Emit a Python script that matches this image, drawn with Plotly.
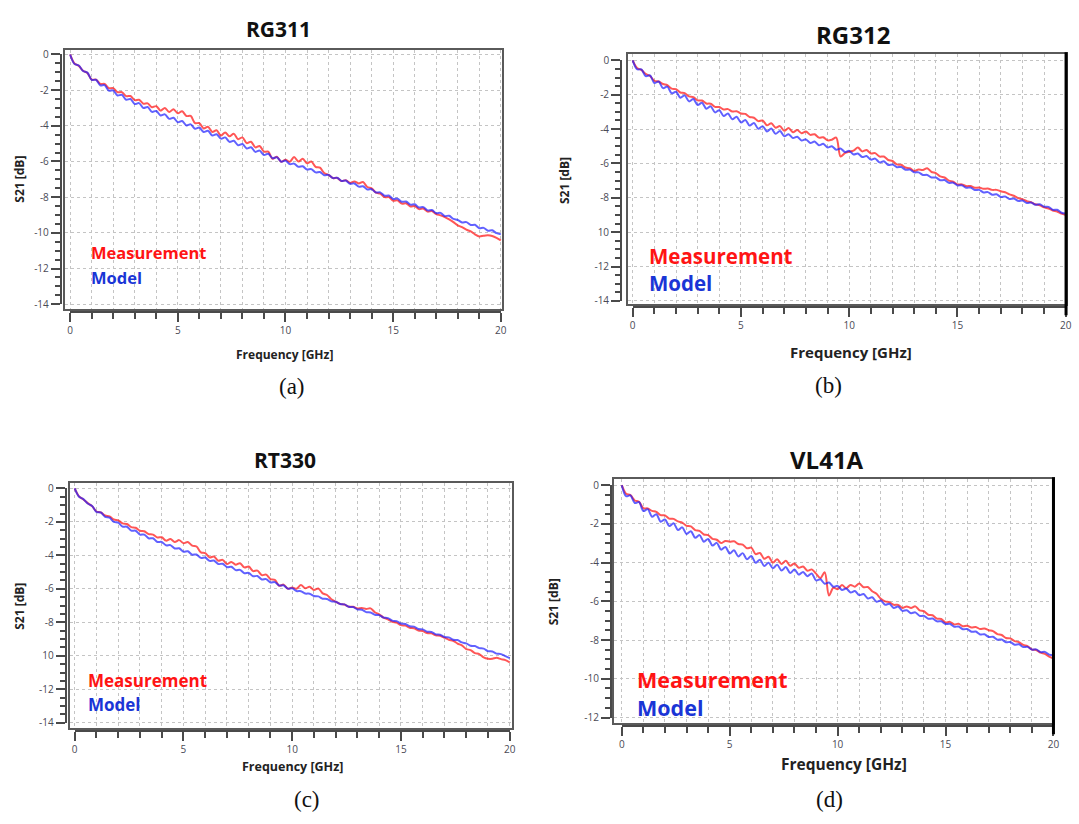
import plotly.graph_objects as go

W, H = 1079, 824

# ---------------- data ----------------
freq_ghz = [0.0, 0.2, 0.4, 0.6, 0.8, 1.0, 1.2, 1.4, 1.6, 1.8,
            2.0, 2.2, 2.4, 2.6, 2.8, 3.0, 3.2, 3.4, 3.6, 3.8,
            4.0, 4.2, 4.4, 4.6, 4.8, 5.0, 5.2, 5.4, 5.6, 5.8,
            6.0, 6.2, 6.4, 6.6, 6.8, 7.0, 7.2, 7.4, 7.6, 7.8,
            8.0, 8.2, 8.4, 8.6, 8.8, 9.0, 9.2, 9.4, 9.6, 9.8,
            10.0, 10.2, 10.4, 10.6, 10.8, 11.0, 11.2, 11.4, 11.6, 11.8,
            12.0, 12.2, 12.4, 12.6, 12.8, 13.0, 13.2, 13.4, 13.6, 13.8,
            14.0, 14.2, 14.4, 14.6, 14.8, 15.0, 15.2, 15.4, 15.6, 15.8,
            16.0, 16.2, 16.4, 16.6, 16.8, 17.0, 17.2, 17.4, 17.6, 17.8,
            18.0, 18.2, 18.4, 18.6, 18.8, 19.0, 19.2, 19.4, 19.6, 19.8, 20.0]

# (a) RG311
meas_rg311 = [0.00, -0.51, -0.64, -0.91, -1.04, -1.41, -1.41, -1.65, -1.65, -1.89,
              -1.89, -2.12, -2.11, -2.34, -2.33, -2.56, -2.54, -2.76, -2.74, -2.96,
              -2.90, -3.15, -3.00, -3.23, -3.07, -3.30, -3.18, -3.45, -3.45, -3.85,
              -3.85, -4.15, -4.05, -4.35, -4.25, -4.55, -4.37, -4.59, -4.45, -4.75,
              -4.65, -4.97, -4.89, -5.21, -5.13, -5.45, -5.45, -5.85, -5.73, -6.02,
              -5.90, -6.02, -5.75, -6.00, -5.85, -6.10, -6.00, -6.30, -6.35, -6.65,
              -6.75, -6.93, -6.92, -7.10, -7.05, -7.20, -7.12, -7.23, -7.15, -7.43,
              -7.50, -7.75, -7.80, -8.00, -8.00, -8.20, -8.18, -8.36, -8.34, -8.52,
              -8.50, -8.67, -8.64, -8.81, -8.78, -8.95, -9.02, -9.12, -9.25, -9.40,
              -9.58, -9.68, -9.82, -9.92, -10.08, -10.20, -10.16, -10.14, -10.18, -10.28, -10.42]
model_rg311 = [0.00, -0.53, -0.62, -0.93, -1.02, -1.43, -1.42, -1.73, -1.72, -2.03,
               -2.02, -2.30, -2.26, -2.54, -2.50, -2.78, -2.73, -3.00, -2.95, -3.22,
               -3.17, -3.42, -3.36, -3.61, -3.55, -3.80, -3.73, -3.98, -3.92, -4.17,
               -4.10, -4.35, -4.28, -4.54, -4.47, -4.72, -4.65, -4.90, -4.84, -5.09,
               -5.02, -5.27, -5.20, -5.46, -5.39, -5.64, -5.57, -5.82, -5.76, -6.01,
               -5.94, -6.15, -6.12, -6.30, -6.27, -6.45, -6.43, -6.61, -6.59, -6.77,
               -6.75, -6.93, -6.91, -7.09, -7.07, -7.25, -7.23, -7.41, -7.39, -7.57,
               -7.55, -7.74, -7.73, -7.92, -7.91, -8.10, -8.08, -8.26, -8.24, -8.42,
               -8.40, -8.58, -8.56, -8.74, -8.72, -8.90, -8.88, -9.06, -9.04, -9.22,
               -9.28, -9.42, -9.40, -9.56, -9.55, -9.74, -9.72, -9.88, -9.86, -10.02, -10.08]

# (b) RG312
meas_rg312 = [0.00, -0.44, -0.56, -0.79, -0.91, -1.19, -1.23, -1.38, -1.45, -1.65,
              -1.68, -1.87, -1.91, -2.10, -2.14, -2.33, -2.34, -2.51, -2.53, -2.71,
              -2.72, -2.86, -2.84, -2.98, -2.96, -3.09, -3.12, -3.30, -3.34, -3.54,
              -3.50, -3.78, -3.66, -3.92, -3.83, -4.10, -3.94, -4.18, -4.06, -4.24,
              -4.14, -4.34, -4.30, -4.50, -4.48, -4.66, -4.62, -4.50, -5.60, -5.40,
              -5.32, -5.25, -5.08, -5.30, -5.22, -5.42, -5.40, -5.60, -5.60, -5.80,
              -5.86, -6.06, -6.08, -6.24, -6.28, -6.44, -6.36, -6.38, -6.28, -6.50,
              -6.56, -6.76, -6.82, -7.00, -7.06, -7.22, -7.22, -7.32, -7.32, -7.42,
              -7.40, -7.48, -7.46, -7.54, -7.54, -7.62, -7.68, -7.80, -7.88, -8.02,
              -8.08, -8.20, -8.26, -8.38, -8.44, -8.56, -8.62, -8.74, -8.80, -8.92, -9.00]
model_rg312 = [0.00, -0.52, -0.53, -0.92, -0.88, -1.32, -1.23, -1.62, -1.53, -1.92,
               -1.83, -2.18, -2.04, -2.39, -2.25, -2.60, -2.47, -2.82, -2.68, -3.03,
               -2.90, -3.24, -3.09, -3.43, -3.28, -3.62, -3.47, -3.80, -3.65, -3.98,
               -3.83, -4.14, -3.97, -4.28, -4.11, -4.42, -4.30, -4.52, -4.45, -4.67,
               -4.60, -4.81, -4.73, -4.94, -4.86, -5.07, -5.00, -5.21, -5.13, -5.34,
               -5.27, -5.48, -5.42, -5.63, -5.57, -5.78, -5.72, -5.94, -5.87, -6.09,
               -6.06, -6.22, -6.21, -6.37, -6.36, -6.52, -6.52, -6.67, -6.67, -6.82,
               -6.82, -6.98, -6.97, -7.13, -7.12, -7.28, -7.27, -7.42, -7.40, -7.55,
               -7.54, -7.69, -7.67, -7.82, -7.80, -7.95, -7.93, -8.07, -8.04, -8.18,
               -8.16, -8.30, -8.27, -8.41, -8.38, -8.52, -8.53, -8.70, -8.70, -8.87, -8.92]

# (c) RT330
meas_rt330 = [0.00, -0.48, -0.66, -0.88, -1.06, -1.38, -1.43, -1.62, -1.67, -1.86,
              -1.91, -2.09, -2.13, -2.31, -2.35, -2.53, -2.56, -2.73, -2.76, -2.93,
              -2.92, -3.12, -3.02, -3.20, -3.09, -3.27, -3.20, -3.42, -3.47, -3.82,
              -3.87, -4.12, -4.07, -4.32, -4.27, -4.52, -4.39, -4.56, -4.47, -4.72,
              -4.67, -4.94, -4.91, -5.18, -5.15, -5.42, -5.47, -5.82, -5.75, -5.99,
              -5.92, -5.99, -5.77, -5.97, -5.87, -6.07, -5.98, -6.27, -6.37, -6.62,
              -6.77, -6.90, -6.94, -7.07, -7.07, -7.17, -7.14, -7.20, -7.17, -7.40,
              -7.52, -7.72, -7.82, -7.97, -8.02, -8.17, -8.20, -8.33, -8.36, -8.49,
              -8.52, -8.64, -8.66, -8.78, -8.80, -8.92, -9.04, -9.10, -9.27, -9.38,
              -9.60, -9.66, -9.84, -9.90, -10.10, -10.18, -10.18, -10.12, -10.20, -10.26, -10.40]
model_rt330 = [0.00, -0.50, -0.64, -0.90, -1.05, -1.40, -1.44, -1.70, -1.75, -2.00,
               -2.05, -2.28, -2.29, -2.52, -2.53, -2.76, -2.76, -2.98, -2.98, -3.20,
               -3.20, -3.40, -3.39, -3.59, -3.58, -3.78, -3.76, -3.96, -3.95, -4.15,
               -4.13, -4.33, -4.31, -4.52, -4.50, -4.70, -4.68, -4.88, -4.87, -5.07,
               -5.05, -5.25, -5.23, -5.44, -5.42, -5.62, -5.60, -5.80, -5.79, -5.99,
               -5.97, -6.13, -6.14, -6.28, -6.29, -6.43, -6.45, -6.59, -6.61, -6.75,
               -6.77, -6.91, -6.93, -7.07, -7.09, -7.23, -7.25, -7.39, -7.41, -7.55,
               -7.57, -7.72, -7.75, -7.90, -7.93, -8.08, -8.10, -8.24, -8.26, -8.40,
               -8.42, -8.56, -8.58, -8.72, -8.74, -8.88, -8.90, -9.04, -9.06, -9.20,
               -9.26, -9.40, -9.42, -9.54, -9.57, -9.72, -9.74, -9.87, -9.90, -10.02, -10.14]

# (d) VL41A
meas_vl41a = [0.00, -0.44, -0.51, -0.79, -0.86, -1.19, -1.20, -1.33, -1.38, -1.55,
              -1.56, -1.73, -1.74, -1.87, -1.93, -2.10, -2.13, -2.32, -2.36, -2.55,
              -2.58, -2.77, -2.82, -2.99, -2.88, -2.92, -2.90, -3.04, -3.07, -3.26,
              -3.23, -3.56, -3.50, -3.80, -3.70, -4.00, -3.83, -4.07, -3.90, -4.16,
              -4.05, -4.27, -4.20, -4.42, -4.35, -4.57, -4.80, -4.50, -5.70, -5.30,
              -5.37, -5.16, -5.32, -5.15, -5.24, -5.08, -5.27, -5.26, -5.48, -5.61,
              -5.86, -6.00, -6.04, -6.18, -6.18, -6.34, -6.26, -6.34, -6.26, -6.47,
              -6.51, -6.69, -6.72, -6.89, -6.91, -7.09, -7.06, -7.19, -7.16, -7.29,
              -7.26, -7.35, -7.32, -7.43, -7.40, -7.49, -7.54, -7.69, -7.74, -7.89,
              -7.91, -8.05, -8.11, -8.25, -8.31, -8.49, -8.51, -8.65, -8.71, -8.85, -8.95]
model_vl41a = [0.00, -0.57, -0.53, -0.92, -0.88, -1.34, -1.24, -1.63, -1.50, -1.89,
               -1.77, -2.11, -1.97, -2.32, -2.18, -2.52, -2.38, -2.72, -2.58, -2.92,
               -2.78, -3.12, -2.98, -3.33, -3.19, -3.53, -3.36, -3.68, -3.51, -3.83,
               -3.66, -4.01, -3.85, -4.17, -4.01, -4.29, -4.11, -4.41, -4.23, -4.54,
               -4.36, -4.62, -4.48, -4.70, -4.56, -4.92, -4.86, -5.09, -5.03, -5.25,
               -5.20, -5.41, -5.34, -5.54, -5.47, -5.68, -5.62, -5.85, -5.79, -6.02,
               -5.96, -6.18, -6.12, -6.34, -6.27, -6.49, -6.46, -6.61, -6.57, -6.75,
               -6.75, -6.90, -6.89, -7.03, -7.03, -7.17, -7.16, -7.31, -7.30, -7.44,
               -7.43, -7.57, -7.56, -7.71, -7.70, -7.84, -7.83, -7.98, -7.97, -8.11,
               -8.10, -8.24, -8.22, -8.36, -8.35, -8.49, -8.48, -8.62, -8.61, -8.75, -8.78]

panel_titles = ["RG311", "RG312", "RT330", "VL41A"]
panel_labels = ["(a)", "(b)", "(c)", "(d)"]
x_tick_vals = [0, 5, 10, 15, 20]
y_tick_vals_14 = [0, -2, -4, -6, -8, -10, -12, -14]
y_tick_text_a = ["0", "-2", "-4", "-6", "-8", "-10", "-12", "-14"]
y_tick_text_b = ["0", "-2", "-4", "-6", "-8", "10", "-12", "-14"]
y_tick_text_c = ["0", "-2", "-4", "-6", "-8", "10", "-12", "-14"]
y_tick_vals_12 = [0, -2, -4, -6, -8, -10, -12]
y_tick_text_d = ["0", "-2", "-4", "-6", "-8", "-10", "-12"]

# ---------------- geometry / style (pixels) ----------------
# leg: (left x, measurement y, model y, font size, combined-in-one-text)
PANELS = [
    dict(meas=meas_rg311, model=model_rg311, ymin=-14, tv=y_tick_vals_14, tt=y_tick_text_a,
         x0=67.7, x20=502.0, y0=47.3, ymn=301.7, fl=62.3, fr=503.3, ft=42.7, fb=306.7,
         yl=58.3, xl=310.0, title=(278, 21, 21), lab=(291, 386), xt=(284, 353, 12),
         yt=(17, 174), leg=(87, 249, 274, 16.5, False), thick_right=False),
    dict(meas=meas_rg312, model=model_rg312, ymin=-14, tv=y_tick_vals_14, tt=y_tick_text_b,
         x0=635.0, x20=1071.7, y0=53.3, ymn=298.3, fl=630.0, fr=1072.0, ft=47.0, fb=301.7,
         yl=623.3, xl=305.0, title=(857, 27, 24), lab=(832, 384), xt=(855, 350, 15),
         yt=(567, 176), leg=(649, 266, 266, 20.5, True), thick_right=True),
    dict(meas=meas_rt330, model=model_rt330, ymin=-14, tv=y_tick_vals_14, tt=y_tick_text_c,
         x0=72.3, x20=511.0, y0=489.3, ymn=728.0, fl=67.7, fr=512.8, ft=483.3, fb=733.0,
         yl=63.3, xl=736.0, title=(284, 460, 21), lab=(307, 806), xt=(292, 773, 12.5),
         yt=(17, 609), leg=(84, 685, 709, 17, False), thick_right=False),
    dict(meas=meas_vl41a, model=model_vl41a, ymin=-12, tv=y_tick_vals_12, tt=y_tick_text_d,
         x0=624.0, x20=1059.3, y0=486.0, ymn=722.7, fl=616.6, fr=1059.3, ft=480.0, fb=728.3,
         yl=613.0, xl=731.7, title=(831, 460, 24), lab=(833, 806), xt=(848, 770, 15.5),
         yt=(556, 605), leg=(637, 698, 698, 21.5, True), thick_right=True),
]

FRAME = "#5a5a5a"
AXC = "#4a4a4a"
GRID = "#c4c4c4"
TICKFONT = dict(family="Open Sans", size=10, color="#4a4a55")
RED = "rgba(255,30,30,0.75)"
BLUE = "rgba(30,30,255,0.7)"
RED_TXT = "#ff1414"
BLUE_TXT = "#1a35d6"


def px(x):
    return x / W


def py(y):
    return 1 - y / H


fig = go.Figure()
layout = dict(width=W, height=H, margin=dict(l=0, r=0, t=0, b=0),
              paper_bgcolor="white", plot_bgcolor="rgba(0,0,0,0)",
              showlegend=False, annotations=[], shapes=[])

for k, p in enumerate(PANELS):
    fa, ta = k + 1, k + 5
    fs = "" if fa == 1 else str(fa)
    ts = str(ta)
    ppg = (p["x20"] - p["x0"]) / 20.0
    ppd = (p["ymn"] - p["y0"]) / (-p["ymin"])
    xr = [-(p["x0"] - p["fl"]) / ppg, 20 + (p["fr"] - p["x20"]) / ppg]
    yr = [p["ymin"] - (p["fb"] - p["ymn"]) / ppd, (p["y0"] - p["ft"]) / ppd]

    # frame + grid axes (data traces live here)
    layout["xaxis" + fs] = dict(domain=[px(p["fl"]), px(p["fr"])], range=xr, anchor="y" + fs,
                                showline=True, mirror=True, linecolor=FRAME, linewidth=2,
                                ticks="", showticklabels=False, showgrid=True, gridcolor=GRID,
                                griddash="dot", gridwidth=1, tickmode="linear", tick0=0, dtick=1,
                                zeroline=False, fixedrange=True)
    layout["yaxis" + fs] = dict(domain=[py(p["fb"]), py(p["ft"])], range=yr, anchor="x" + fs,
                                showline=True, mirror=True, linecolor=FRAME, linewidth=2,
                                ticks="", showticklabels=False, showgrid=True, gridcolor=GRID,
                                griddash="dot", gridwidth=1, tickmode="linear", tick0=0, dtick=2,
                                zeroline=False, fixedrange=True)
    # detached tick axes
    layout["xaxis" + ts] = dict(domain=[px(p["x0"]), px(p["x20"])], range=[0, 20], anchor="free",
                                position=py(p["xl"]), side="bottom", showline=True, linecolor=AXC,
                                linewidth=2, ticks="outside", ticklen=9, tickwidth=2, tickcolor=AXC,
                                tickmode="array", tickvals=x_tick_vals, tickfont=TICKFONT,
                                minor=dict(tickmode="linear", tick0=0, dtick=1, ticks="outside",
                                           ticklen=6, tickwidth=2, tickcolor=AXC, showgrid=False),
                                showgrid=False, zeroline=False, fixedrange=True)
    layout["yaxis" + ts] = dict(domain=[py(p["ymn"]), py(p["y0"])], range=[p["ymin"], 0], anchor="free",
                                position=px(p["yl"]), side="left", showline=True, linecolor=AXC,
                                linewidth=2, ticks="outside", ticklen=9, tickwidth=2, tickcolor=AXC,
                                tickmode="array", tickvals=p["tv"], ticktext=p["tt"], tickfont=TICKFONT,
                                minor=dict(tickmode="linear", tick0=0, dtick=0.5, ticks="outside",
                                           ticklen=5, tickwidth=1.5, tickcolor=AXC, showgrid=False),
                                showgrid=False, zeroline=False, fixedrange=True)

    fig.add_trace(go.Scatter(x=[], y=[], xaxis="x" + ts, yaxis="y" + ts, mode="lines",
                             showlegend=False, hoverinfo="skip"))
    fig.add_trace(go.Scatter(x=freq_ghz, y=p["meas"], xaxis="x" + fs, yaxis="y" + fs, mode="lines",
                             line=dict(color=RED, width=2, shape="spline", smoothing=0.9),
                             name="Measurement", hoverinfo="skip"))
    fig.add_trace(go.Scatter(x=freq_ghz, y=p["model"], xaxis="x" + fs, yaxis="y" + fs, mode="lines",
                             line=dict(color=BLUE, width=2, shape="spline", smoothing=0.9),
                             name="Model", hoverinfo="skip"))

    if p["thick_right"]:
        layout["shapes"].append(dict(type="line", xref="paper", yref="paper",
                                     x0=px(p["fr"]), x1=px(p["fr"]), y0=py(p["ft"] - 2), y1=py(p["xl"] + 8),
                                     line=dict(color="black", width=3)))

    tx, tyy, tsz = p["title"]
    layout["annotations"].append(dict(text="<b>%s</b>" % panel_titles[k], x=px(tx), y=py(tyy),
                                      xref="paper", yref="paper", xanchor="center", yanchor="middle",
                                      showarrow=False, font=dict(family="Open Sans", size=tsz, color="#111")))
    lx, ly = p["lab"]
    layout["annotations"].append(dict(text=panel_labels[k], x=px(lx), y=py(ly), xref="paper", yref="paper",
                                      xanchor="center", yanchor="middle", showarrow=False,
                                      font=dict(family="Liberation Serif", size=23, color="#111")))
    xx, xy, xsz = p["xt"]
    layout["annotations"].append(dict(text="<b>Frequency [GHz]</b>", x=px(xx), y=py(xy), xref="paper",
                                      yref="paper", xanchor="center", yanchor="middle", showarrow=False,
                                      font=dict(family="Open Sans", size=xsz, color="#222")))
    yx, yy = p["yt"]
    layout["annotations"].append(dict(text="<b>S21 [dB]</b>", x=px(yx), y=py(yy), xref="paper",
                                      yref="paper", xanchor="center", yanchor="middle", textangle=-90,
                                      showarrow=False, font=dict(family="Open Sans", size=12, color="#222")))
    gx, gy1, gy2, gsz, combined = p["leg"]
    if combined:
        layout["annotations"].append(dict(
            text="<b><span style='color:%s'>Measurement</span><br>"
                 "<span style='color:%s'>Model</span></b>" % (RED_TXT, BLUE_TXT),
            x=px(gx), y=py(gy1), xref="paper", yref="paper", xanchor="left", yanchor="middle",
            align="left", showarrow=False, font=dict(family="Open Sans", size=gsz, color=BLUE_TXT)))
    else:
        layout["annotations"].append(dict(text="<b>Measurement</b>", x=px(gx), y=py(gy1), xref="paper",
                                          yref="paper", xanchor="left", yanchor="middle", showarrow=False,
                                          font=dict(family="Open Sans", size=gsz, color=RED_TXT)))
        layout["annotations"].append(dict(text="<b>Model</b>", x=px(gx), y=py(gy2), xref="paper",
                                          yref="paper", xanchor="left", yanchor="middle", showarrow=False,
                                          font=dict(family="Open Sans", size=gsz, color=BLUE_TXT)))

fig.update_layout(**layout)
fig.write_html("out.html")
